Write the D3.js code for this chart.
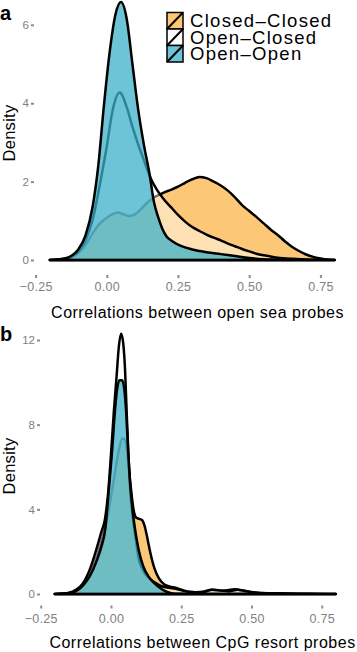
<!DOCTYPE html>
<html>
<head>
<meta charset="utf-8">
<script src="https://cdnjs.cloudflare.com/ajax/libs/d3/7.8.5/d3.min.js"></script>
<style>
	body { margin: 0; background: #fff; }
	svg { display: block; font-family: "Liberation Sans", Arial, sans-serif; }
</style>
</head>
<body>
<div id="chart"></div>
<script>
// legend / group names, in drawing order
var groups = ["Closed\u2013Closed", "Open\u2013Closed", "Open\u2013Open"];
var xTicks = [-0.25, 0, 0.25, 0.5, 0.75];
var yTicksSea = [0, 2, 4, 6];
var yTicksResort = [0, 4, 8, 12];

// panel a: open sea probes, [correlation, density]
var seaClosedClosed = [[-0.2,0],[-0.15,0.02],[-0.125,0.07],[-0.1,0.18],[-0.075,0.38],[-0.05,0.68],[-0.025,0.93],[0,1.08],[0.02,1.17],[0.04,1.21],[0.06,1.16],[0.08,1.12],[0.1,1.17],[0.12,1.3],[0.14,1.45],[0.16,1.57],[0.18,1.65],[0.2,1.72],[0.225,1.79],[0.25,1.87],[0.275,1.97],[0.3,2.06],[0.325,2.12],[0.35,2.09],[0.375,2.0],[0.4,1.9],[0.425,1.77],[0.45,1.6],[0.475,1.4],[0.5,1.25],[0.525,1.1],[0.55,0.94],[0.575,0.78],[0.6,0.64],[0.625,0.48],[0.65,0.34],[0.675,0.23],[0.7,0.14],[0.725,0.08],[0.75,0.04],[0.775,0.01],[0.8,0]];
var seaOpenClosed = [[-0.2,0],[-0.15,0.03],[-0.1,0.22],[-0.075,0.5],[-0.05,1.02],[-0.025,1.9],[0,2.9],[0.02,3.8],[0.045,4.27],[0.07,3.9],[0.09,3.4],[0.11,2.95],[0.13,2.55],[0.15,2.15],[0.175,1.8],[0.2,1.55],[0.225,1.35],[0.25,1.15],[0.275,0.98],[0.3,0.84],[0.325,0.74],[0.35,0.65],[0.375,0.57],[0.4,0.5],[0.425,0.42],[0.45,0.35],[0.475,0.28],[0.5,0.22],[0.525,0.16],[0.55,0.12],[0.575,0.09],[0.6,0.06],[0.65,0.03],[0.7,0.015],[0.8,0]];
var seaOpenOpen = [[-0.2,0],[-0.175,0.01],[-0.15,0.03],[-0.125,0.1],[-0.1,0.27],[-0.075,0.62],[-0.05,1.35],[-0.03,2.4],[-0.01,3.95],[0.01,5.3],[0.03,6.25],[0.05,6.58],[0.07,6.15],[0.09,5.0],[0.11,3.85],[0.13,2.95],[0.15,2.2],[0.165,1.5],[0.18,1.1],[0.195,0.8],[0.21,0.6],[0.23,0.48],[0.26,0.36],[0.3,0.27],[0.35,0.2],[0.4,0.15],[0.45,0.1],[0.5,0.05],[0.55,0.02],[0.6,0.01],[0.7,0],[0.8,0]];

// panel b: CpG resort probes
var resortClosedClosed = [[-0.2,0],[-0.15,0.03],[-0.1,0.4],[-0.075,0.9],[-0.05,1.8],[-0.03,2.7],[-0.015,3.5],[0,4.6],[0.01,5.4],[0.025,6.6],[0.04,7.35],[0.05,7.3],[0.06,6.4],[0.07,5.1],[0.08,4.0],[0.09,3.6],[0.1,3.55],[0.11,3.5],[0.12,3.2],[0.13,2.6],[0.14,1.95],[0.155,1.2],[0.17,0.75],[0.19,0.45],[0.21,0.35],[0.23,0.3],[0.25,0.2],[0.28,0.08],[0.32,0.1],[0.36,0.2],[0.4,0.15],[0.44,0.22],[0.48,0.12],[0.52,0.06],[0.6,0.03],[0.7,0.01],[0.8,0]];
var resortOpenClosed = [[-0.2,0],[-0.175,0.02],[-0.15,0.06],[-0.125,0.2],[-0.1,0.5],[-0.08,1.0],[-0.065,1.55],[-0.05,2.2],[-0.035,2.9],[-0.022,3.5],[-0.01,4.8],[0,6.6],[0.01,8.6],[0.02,10.3],[0.028,11.7],[0.036,12.3],[0.043,11.9],[0.05,10.6],[0.056,8.5],[0.062,6.6],[0.068,5.0],[0.076,3.8],[0.088,2.6],[0.1,1.6],[0.115,1.1],[0.135,0.75],[0.155,0.55],[0.175,0.4],[0.2,0.3],[0.23,0.25],[0.26,0.15],[0.3,0.08],[0.33,0.1],[0.36,0.2],[0.39,0.17],[0.42,0.13],[0.45,0.2],[0.48,0.14],[0.52,0.06],[0.56,0.03],[0.65,0.01],[0.8,0]];
var resortOpenOpen = [[-0.2,0],[-0.15,0.04],[-0.1,0.4],[-0.075,0.85],[-0.05,1.6],[-0.035,2.2],[-0.02,3.1],[-0.008,4.9],[0.003,6.6],[0.015,8.8],[0.022,9.7],[0.03,10.1],[0.04,10.1],[0.048,9.6],[0.054,8.6],[0.06,7.0],[0.066,5.6],[0.072,4.6],[0.08,3.6],[0.09,2.7],[0.1,2.0],[0.115,1.3],[0.135,0.8],[0.155,0.5],[0.175,0.28],[0.195,0.12],[0.215,0.04],[0.25,0.01],[0.3,0],[0.8,0]];

var svg = d3.select("#chart").append("svg")
	.attr("width", 357)
	.attr("height", 652);

var plotDensity = function (svg, series, yTicks, label, xLabel, config) {
	var x = d3.scaleLinear().domain([-0.25, 0.75]).range([config.xLeft, config.xRight]);
	var y = d3.scaleLinear().domain([0, yTicks[yTicks.length - 1]]).range([config.yBottom, config.yTop]);

	var area = d3.area()
		.curve(d3.curveMonotoneX)
		.x(function(d) { return x(d[0]); })
		.y0(y(0))
		.y1(function(d) { return y(d[1]); });

	// fill and outline per group, in order, like ggplot does
	svg.append("g")
		.attr("class", "densities")
		.selectAll("path")
		.data(series)
		.enter()
		.append("path")
		.attr("d", area)
		.attr("fill", function(d, i) { return config.fills[i]; })
		.attr("fill-opacity", function(d, i) { return config.opacities[i]; })
		.attr("stroke", "#000")
		.attr("stroke-width", 2.5)
		.attr("stroke-linejoin", "round");

	var yAxis = svg.append("g")
		.attr("transform", "translate(" + config.yAxisX + ",0)")
		.call(d3.axisLeft(y).tickValues(yTicks).tickSize(3).tickPadding(2).tickFormat(d3.format("d")));
	yAxis.select(".domain").remove();
	yAxis.selectAll("line").attr("stroke", "#8c8c8c").attr("stroke-width", 2);
	yAxis.selectAll("text").attr("fill", "#7f7f7f").attr("font-size", 11.5).attr("font-family", null);

	var xAxis = svg.append("g")
		.attr("transform", "translate(0," + config.xAxisY + ")")
		.call(d3.axisBottom(x).tickValues(xTicks).tickSize(3).tickPadding(config.xTickPad).tickFormat(d3.format(".2f")));
	xAxis.select(".domain").remove();
	xAxis.selectAll("line").attr("stroke", "#8c8c8c").attr("stroke-width", 2);
	xAxis.selectAll("text").attr("fill", "#7f7f7f").attr("font-size", 12.5).attr("font-family", null)
		.attr("letter-spacing", 0.3);

	svg.append("text")
		.attr("x", config.titleX)
		.attr("y", config.titleY)
		.attr("text-anchor", "middle")
		.attr("font-size", 16)
		.attr("letter-spacing", 0.5)
		.attr("fill", "#000")
		.text(xLabel);

	svg.append("text")
		.attr("transform", "translate(15," + config.densityY + ") rotate(-90)")
		.attr("text-anchor", "middle")
		.attr("font-size", 16.5)
		.attr("letter-spacing", 0.3)
		.attr("fill", "#000")
		.text("Density");

	svg.append("text")
		.attr("x", 0)
		.attr("y", config.labelY)
		.attr("font-size", 20)
		.attr("font-weight", "bold")
		.attr("fill", "#000")
		.text(label);
};

var fills = ["#FCC878", "#ffffff", "#3CB0C8"];
var opacities = [1, 0.45, 0.75];

plotDensity(svg, [seaClosedClosed, seaOpenClosed, seaOpenOpen], yTicksSea, "a",
	"Correlations between open sea probes", {
	xLeft: 35.6, xRight: 320.4, yBottom: 260, yTop: 24.8,
	yAxisX: 34, xAxisY: 275, xTickPad: 4,
	titleX: 197.5, titleY: 318, densityY: 133, labelY: 20,
	fills: fills, opacities: opacities
});

plotDensity(svg, [resortClosedClosed, resortOpenClosed, resortOpenOpen], yTicksResort, "b",
	"Correlations between CpG resort probes", {
	xLeft: 40.75, xRight: 321.75, yBottom: 594, yTop: 340,
	yAxisX: 40, xAxisY: 605.5, xTickPad: 6,
	titleX: 202.5, titleY: 648, densityY: 466, labelY: 341,
	fills: fills, opacities: opacities
});

// legend
var legend = svg.append("g")
	.attr("class", "legend")
	.attr("transform", "translate(167,12.5)");
var key = legend.selectAll("g")
	.data(groups)
	.enter()
	.append("g")
	.attr("transform", function(d, i) { return "translate(0," + (i * 16.5) + ")"; });
key.append("rect")
	.attr("width", 16)
	.attr("height", 16.5)
	.attr("fill", function(d, i) { return i == 2 ? "#6DC3D8" : fills[i]; })
	.attr("stroke", "#000")
	.attr("stroke-width", 1.5);
key.append("line")
	.attr("x1", 0).attr("y1", 16.5)
	.attr("x2", 16).attr("y2", 0)
	.attr("stroke", "#000")
	.attr("stroke-width", 2);
key.append("text")
	.attr("x", 23)
	.attr("y", 14.5)
	.attr("font-size", 18.5)
	.attr("letter-spacing", 1.3)
	.attr("fill", "#000")
	.text(function(d) { return d; });
</script>
</body>
</html>
